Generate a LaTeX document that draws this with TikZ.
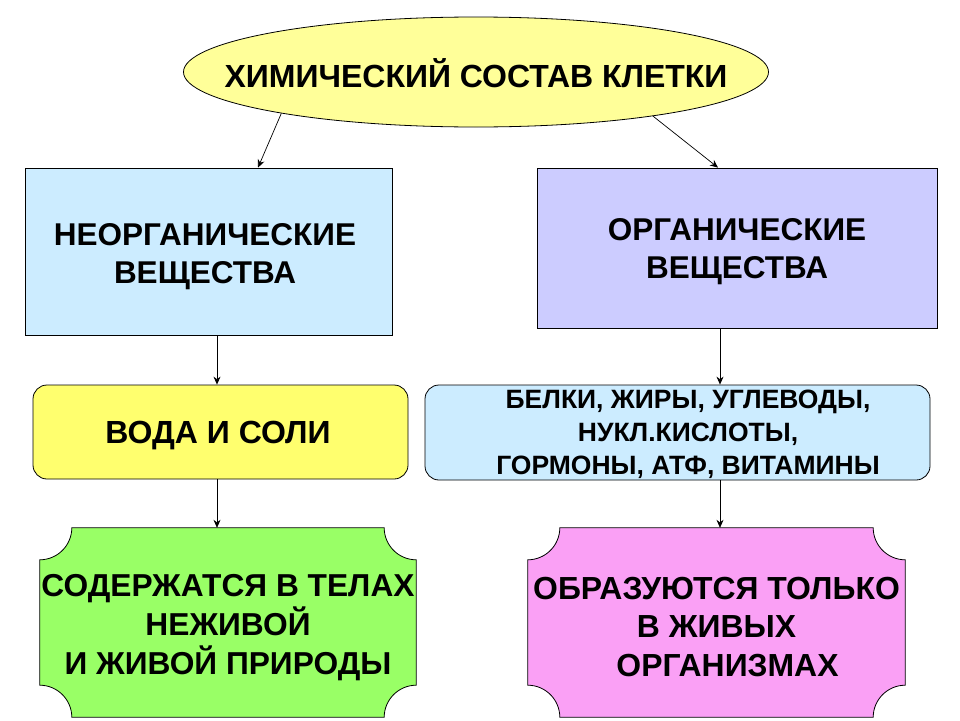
\documentclass[tikz,border=0pt]{standalone}
\usepackage{fontspec}
\setmainfont{Liberation Sans}
\usetikzlibrary{shapes.geometric,arrows.meta,calc,backgrounds}
\definecolor{ellfill}{RGB}{255,255,153}
\definecolor{inorgfill}{RGB}{204,236,255}
\definecolor{orgfill}{RGB}{204,204,255}
\definecolor{waterfill}{RGB}{255,255,110}
\definecolor{listfill}{RGB}{204,236,255}
\definecolor{greenfill}{RGB}{153,255,102}
\definecolor{pinkfill}{RGB}{250,160,245}
\newcommand\plaquebg[3]{%
 \begin{scope}[on background layer]
 \draw[line width=0.8pt, fill=#2] ($(#1.north west)+(#3,0)$) -- ($(#1.north east)+(-#3,0)$)
  .. controls ($(#1.north east)+(-#3,0.55*#3)$) and ($(#1.north east)+(-0.55*#3,#3)$) .. ($(#1.north east)+(0,#3)$)
  -- ($(#1.south east)+(0,-#3)$)
  .. controls ($(#1.south east)+(-0.55*#3,-#3)$) and ($(#1.south east)+(-#3,-0.55*#3)$) .. ($(#1.south east)+(-#3,0)$)
  -- ($(#1.south west)+(#3,0)$)
  .. controls ($(#1.south west)+(#3,-0.55*#3)$) and ($(#1.south west)+(0.55*#3,-#3)$) .. ($(#1.south west)+(0,-#3)$)
  -- ($(#1.north west)+(0,#3)$)
  .. controls ($(#1.north west)+(0.55*#3,#3)$) and ($(#1.north west)+(#3,0.55*#3)$) .. cycle;
 \end{scope}}
\begin{document}
\begin{tikzpicture}[x=1pt,y=-1pt,
  box/.style={draw, line width=0.8pt, inner sep=0pt},
  rbox/.style={box, rounded corners=14pt},
  plaque/.style={inner sep=0pt},
  txt/.style={align=center, inner sep=0pt},
  arr/.style={-{Stealth[length=8pt,width=7pt]}, line width=0.7pt}]
\begin{scope}[on background layer]
\fill[white] (0,0) rectangle (960,720);
\end{scope}
\useasboundingbox (0,0) rectangle (960,720);

\node[ellipse, draw, line width=0.8pt, fill=ellfill, minimum width=585pt, minimum height=110pt, inner sep=0pt] (top) at (476,72) {};
\node[txt, font=\bfseries\fontsize{32}{38}\selectfont] (toptext) at (476,73) {ХИМИЧЕСКИЙ СОСТАВ КЛЕТКИ};

\node[box, fill=inorgfill, minimum width=367pt, minimum height=167pt] (inorg) at (208.5,251.5) {};
\node[txt, font=\bfseries\fontsize{31.5}{38}\selectfont] (inorgtext) at (205,257) {НЕОРГАНИЧЕСКИЕ\\ВЕЩЕСТВА};
\node[box, fill=orgfill, minimum width=400pt, minimum height=160pt] (org) at (737,248) {};
\node[txt, font=\bfseries\fontsize{31.5}{38}\selectfont] (orgtext) at (737,252) {ОРГАНИЧЕСКИЕ\\ВЕЩЕСТВА};

\node[rbox, fill=waterfill, minimum width=375pt, minimum height=94pt] (water) at (220.5,432) {};
\node[txt, font=\bfseries\fontsize{32}{38}\selectfont] (watertext) at (218,436) {ВОДА И СОЛИ};
\node[rbox, fill=listfill, minimum width=505pt, minimum height=95pt] (list) at (677.5,432.5) {};
\node[txt, font=\bfseries\fontsize{26.5}{33}\selectfont] (listtext) at (688,434.5) {БЕЛКИ, ЖИРЫ, УГЛЕВОДЫ,\\НУКЛ.КИСЛОТЫ,\\ГОРМОНЫ, АТФ, ВИТАМИНЫ};

\node[plaque, minimum width=376pt, minimum height=189pt] (live) at (228,622.5) {};
\plaquebg{live}{greenfill}{32}
\node[txt, font=\bfseries\fontsize{31.7}{39}\selectfont] (livetext) at (228,627.5) {СОДЕРЖАТСЯ В ТЕЛАХ\\НЕЖИВОЙ\\И ЖИВОЙ ПРИРОДЫ};
\node[plaque, minimum width=377pt, minimum height=189pt] (only) at (716.5,622.5) {};
\plaquebg{only}{pinkfill}{32}
\node[txt, font=\bfseries\fontsize{31.9}{38.5}\selectfont] (onlytext) at (716.5,627) {ОБРАЗУЮТСЯ ТОЛЬКО\\В ЖИВЫХ\\\hspace*{22pt}ОРГАНИЗМАХ};

\draw[arr] (top.192.6) -- ([xshift=49.5pt]inorg.north);
\draw[arr] (top.346.9) -- ([xshift=-19pt]org.north);
\draw[arr] ([xshift=8.5pt]inorg.south) -- ([xshift=-3.5pt]water.north);
\draw[arr] ([xshift=-17pt]org.south) -- ([xshift=42.5pt]list.north);
\draw[arr] ([xshift=-3.5pt]water.south) -- ([xshift=-11pt]live.north);
\draw[arr] ([xshift=42.5pt]list.south) -- ([xshift=3.5pt]only.north);
\end{tikzpicture}
\end{document}
